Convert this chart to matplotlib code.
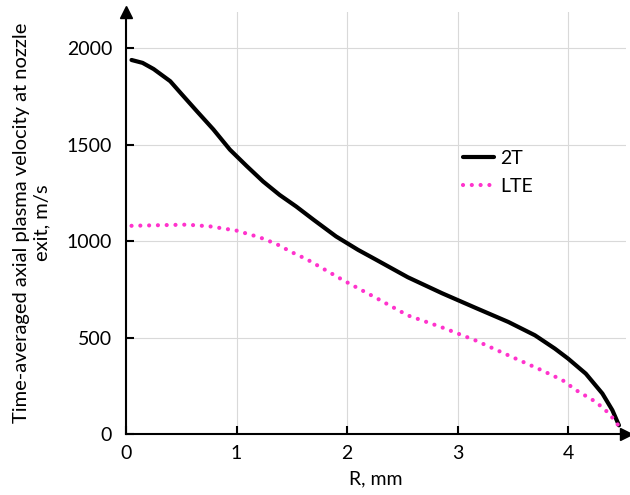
import numpy as np
import matplotlib.pyplot as plt

plt.rcParams['font.family'] = ['Lato', 'DejaVu Sans']

# Radial position, mm, and velocity, m/s
r_2t = [0.05, 0.15, 0.25, 0.4, 0.5, 0.64, 0.79, 0.94, 1.09, 1.24, 1.39, 1.54, 1.7, 1.9,
        2.1, 2.25, 2.55, 2.86, 3.16, 3.46, 3.7, 3.88, 4.0, 4.16, 4.31, 4.4, 4.46]
v_2t = [1940, 1925, 1893, 1830, 1765, 1675, 1580, 1475, 1391, 1310, 1240, 1180, 1110, 1025,
        955, 908, 813, 730, 655, 581, 512, 443, 391, 313, 210, 124, 45]

r_lte = [0.05, 0.3, 0.55, 0.76, 1.0, 1.21, 1.36, 1.5, 1.64, 1.97, 2.25, 2.55, 2.85,
         3.16, 3.46, 3.76, 3.95, 4.07, 4.25, 4.37, 4.46]
v_lte = [1080, 1083, 1086, 1077, 1055, 1020, 986, 943, 905, 796, 710, 615, 555,
         486, 408, 331, 279, 228, 167, 107, 41]

fig = plt.figure(figsize=(6.3, 4.95), dpi=100)
ax = fig.add_axes([0.2, 0.1232, 0.793, 0.853])

ax.plot(r_2t, v_2t, color='black', lw=3, label='2T', solid_capstyle='round')
ax.plot(r_lte, v_lte, color='#ff33cc', lw=3, linestyle=(0, (0.01, 2.1)),
        dash_capstyle='round', label='LTE')

ax.set_xlim(0, 4.52)
ax.set_ylim(0, 2190)
ax.set_xticks([0, 1, 2, 3, 4])
ax.set_yticks([0, 500, 1000, 1500, 2000])
ax.grid(True, color='#d9d9d9', lw=0.8)
ax.set_axisbelow(True)

for s in ['top', 'right']:
    ax.spines[s].set_visible(False)
for s in ['left', 'bottom']:
    ax.spines[s].set_linewidth(1.5)
ax.plot(1, 0, '>k', ms=8, transform=ax.transAxes, clip_on=False)
ax.plot(0, 1, '^k', ms=8, transform=ax.transAxes, clip_on=False)

ax.tick_params(direction='in', length=6, width=1.5, labelsize=14, pad=8)
ax.tick_params(axis='y', pad=10)

ax.set_xlabel('R, mm', fontsize=14, labelpad=6)
ax.set_ylabel('Time-averaged axial plasma velocity at nozzle\nexit, m/s', fontsize=14.5,
              labelpad=12)

ax.legend(loc='upper left', bbox_to_anchor=(0.64, 0.715), frameon=False, fontsize=14,
          handlelength=1.6, handletextpad=0.3, labelspacing=0.6)

fig.savefig('out.png', dpi=100)
